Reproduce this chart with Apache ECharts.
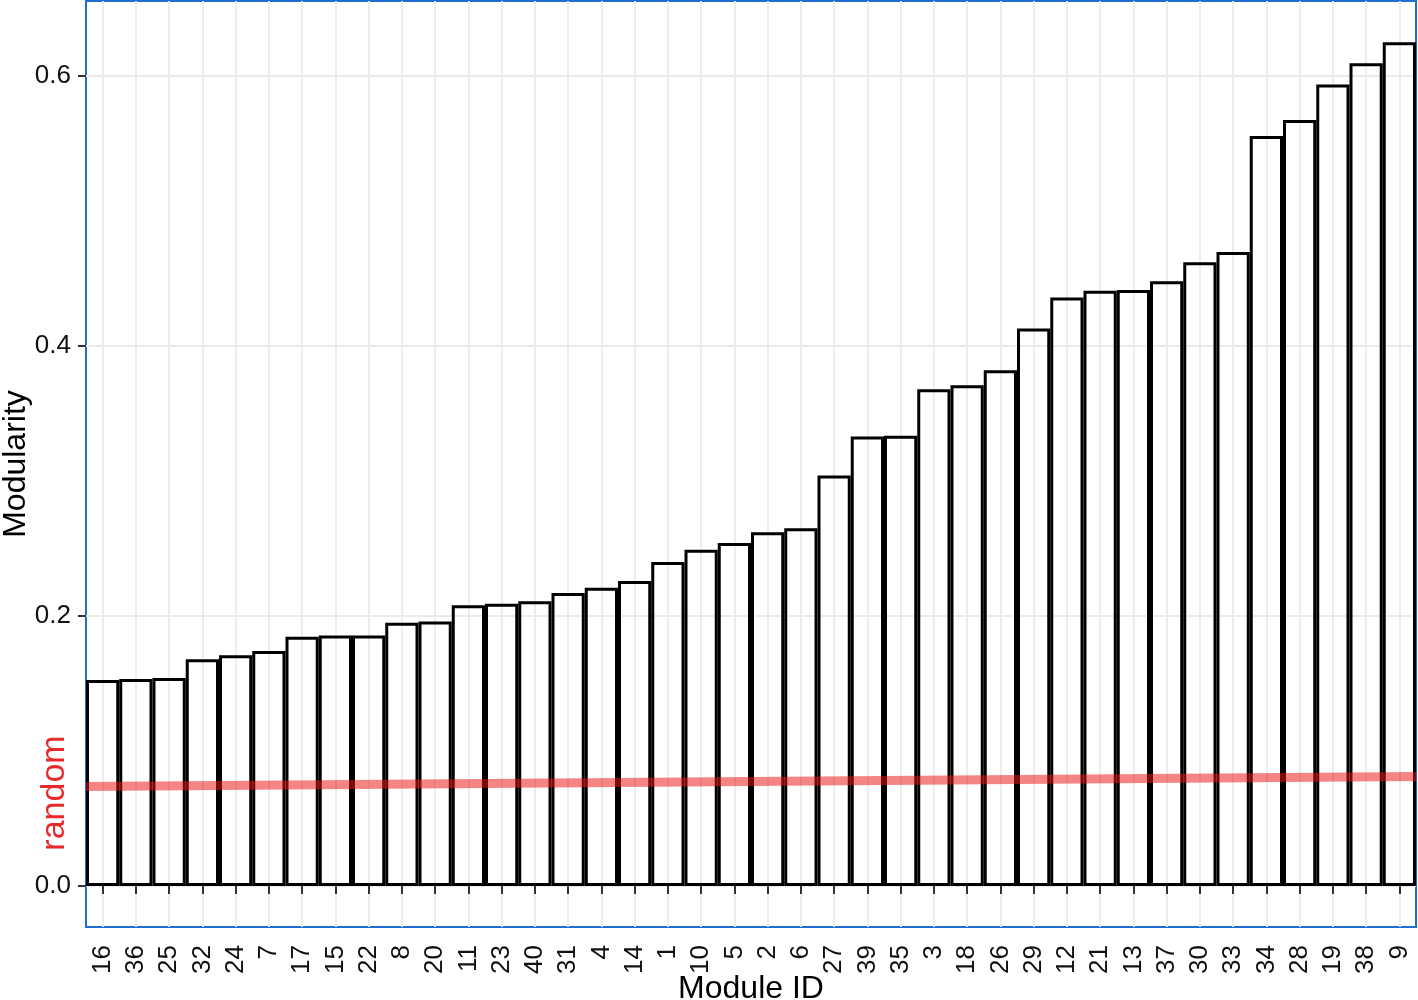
<!DOCTYPE html>
<html>
<head>
<meta charset="utf-8">
<script src="https://cdn.jsdelivr.net/npm/echarts@6/dist/echarts.min.js"></script>
<style>
html,body{margin:0;padding:0;background:#fff;}
#chart{width:1418px;height:1000px;}
</style>
</head>
<body>
<div id="chart"></div>
<script>
// ---- data ----
const moduleIds = ['16','36','25','32','24','7','17','15','22','8','20','11','23','40','31','4','14','1','10','5','2','6','27','39','35','3','18','26','29','12','21','13','37','30','33','34','28','19','38','9'];
const modularity = [0.1526,0.1533,0.154,0.168,0.171,0.174,0.1847,0.1855,0.1855,0.195,0.196,0.208,0.209,0.211,0.217,0.221,0.226,0.240,0.249,0.254,0.262,0.265,0.304,0.333,0.3335,0.368,0.371,0.382,0.413,0.436,0.441,0.4415,0.448,0.462,0.4696,0.5556,0.5674,0.5938,0.6094,0.625];
// random baseline: value at left and right panel edge
const randomX = [0, 40];
const randomY = [0.0737, 0.0811];
const yTickValues = [0, 0.2, 0.4, 0.6];
const yMin = -0.0304, yMax = 0.6556;

const font = '"Liberation Sans", Arial, Helvetica, sans-serif';
const chart = echarts.init(document.getElementById('chart'), null, {renderer: 'canvas'});
const option = {
  animation: false,
  backgroundColor: '#fff',
  grid: {
    left: 86, right: 2, top: 1, bottom: 73,
    containLabel: false,
    outerBoundsMode: 'none',
    show: true, borderColor: '#1f6fd2', borderWidth: 2, backgroundColor: '#fff'
  },
  xAxis: [{
    type: 'category',
    data: moduleIds,
    boundaryGap: true,
    name: 'Module ID',
    nameLocation: 'middle',
    nameGap: 46,
    nameMoveOverlap: false,
    nameTextStyle: {fontFamily: font, fontSize: 32, color: '#000'},
    axisLine: {show: false},
    axisTick: {show: true, alignWithLabel: true, length: 8, lineStyle: {color: '#333', width: 2}},
    axisLabel: {rotate: 90, interval: 0, margin: 18, fontFamily: font, fontSize: 26, color: '#111', hideOverlap: false},
    splitLine: {show: true, alignWithLabel: true, lineStyle: {color: '#ebebeb', width: 1.8}}
  }, {
    type: 'value',
    min: randomX[0], max: randomX[1],
    show: false
  }],
  yAxis: {
    type: 'value',
    min: yMin, max: yMax,
    splitNumber: 7,
    name: 'Modularity',
    nameLocation: 'middle',
    nameRotate: 90,
    nameGap: 54,
    nameMoveOverlap: false,
    nameTextStyle: {fontFamily: font, fontSize: 32, color: '#000'},
    axisLine: {show: false},
    axisTick: {show: true, customValues: yTickValues, length: 8, lineStyle: {color: '#333', width: 2}},
    axisLabel: {
      customValues: yTickValues,
      margin: 15, fontFamily: font, fontSize: 26, color: '#111',
      formatter: function (v) {
        for (const t of yTickValues) { if (Math.abs(v - t) < 1e-6) return t.toFixed(1); }
        return '';
      }
    },
    splitLine: {show: true, lineStyle: {color: '#ebebeb', width: 1.8}}
  },
  series: [{
    type: 'bar',
    data: modularity,
    xAxisIndex: 0,
    barWidth: '100%',
    itemStyle: {color: 'rgba(0,0,0,0)', borderColor: '#000', borderWidth: 3},
    z: 2
  }, {
    type: 'line',
    xAxisIndex: 1,
    data: randomX.map((x, i) => [x, randomY[i]]),
    symbol: 'none',
    lineStyle: {color: 'rgba(235,20,20,0.52)', width: 9},
    z: 3
  }],
  graphic: [{
    type: 'text',
    x: 55, y: 793,
    rotation: Math.PI / 2,
    style: {
      text: 'random',
      fontFamily: font, fontSize: 34,
      fill: '#e8292b',
      align: 'center', verticalAlign: 'middle'
    }
  }]
};
chart.setOption(option);
</script>
</body>
</html>
